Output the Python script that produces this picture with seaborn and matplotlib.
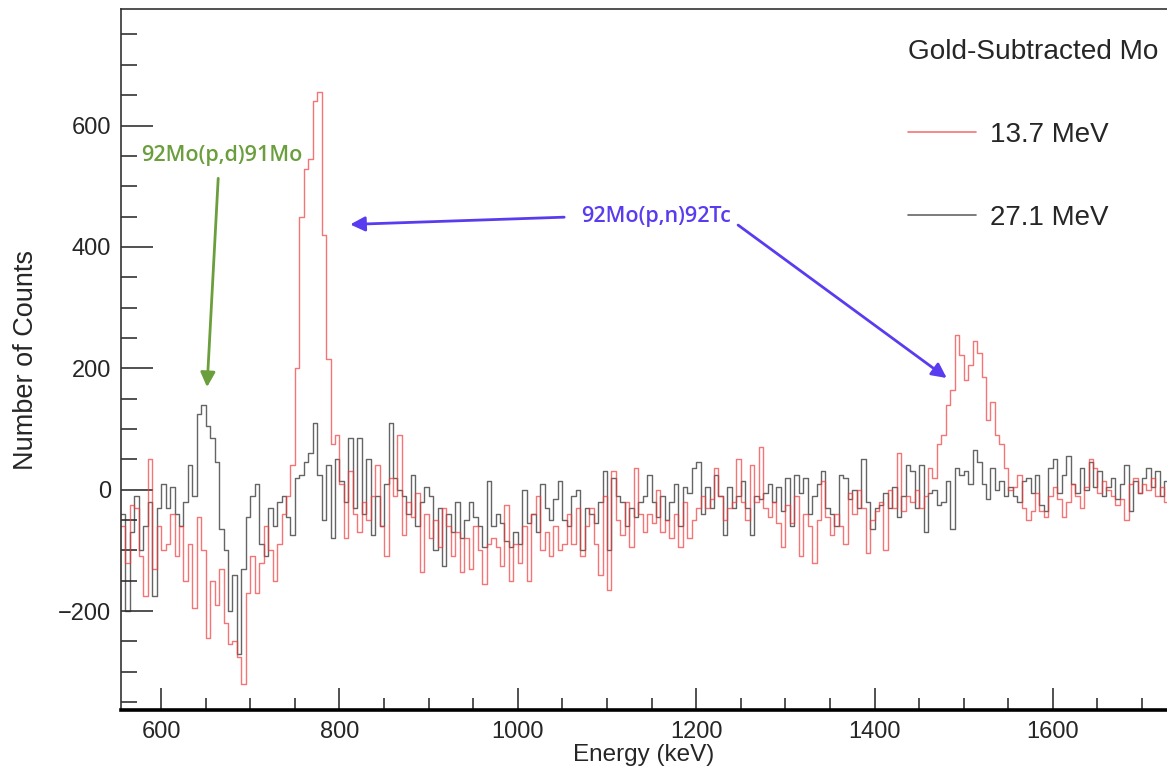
import numpy as np
import pandas as pd
import matplotlib
matplotlib.use("Agg")
import matplotlib.pyplot as plt
from matplotlib.ticker import MultipleLocator
import seaborn as sns

# Histogram binning (keV)
bin_lo = 555
bin_width = 5

# Gold-subtracted Mo spectrum, 13.7 MeV beam (counts per bin)
counts_13p7 = [
    -60, -120, -25, -30, -110, -175, 50, -130, -60, -100,
    -90, -40, -110, -60, -150, -90, -195, -45, -100, -245,
    -150, -190, -130, -220, -255, -250, -275, -320, -170, -110,
    -170, -120, -60, -100, -150, -90, -40, -10, 40, 200,
    450, 528, 545, 640, 655, 420, 215, 75, 90, 10,
    -80, 30, -40, -70, -20, -50, -10, 40, -60, -110,
    20, -10, 90, -75, -20, -45, -5, -135, -40, -80,
    -50, -95, -30, -60, -110, -70, -135, -80, -130, -60,
    -100, -155, -90, -80, -95, -125, -25, -150, -90, -120,
    -60, -150, -40, -10, -100, -70, -110, -60, -100, -90,
    -40, -90, -30, -110, -60, -30, -90, -140, -10, -165,
    30, -50, -75, -20, -95, 35, -40, -70, -40, -55,
    0, -70, -50, -80, -40, -95, -20, -80, -50, -30,
    -10, -30, -15, 35, -10, -50, -30, -20, 50, -20,
    -50, 40, -20, 70, -30, -45, -20, -55, -95, -25,
    -55, -10, -110, -40, -60, -120, -50, 15, -45, -75,
    -40, -60, -90, -5, -40, 0, -30, -105, -50, -35,
    -20, -100, 0, -30, 60, -35, -10, -20, 0, -30,
    -10, 35, 20, 75, 90, 140, 165, 255, 222, 180,
    206, 245, 225, 185, 115, 145, 90, 75, 35, 0,
    5, 25, -30, -50, -35, -5, -35, -45, -10, 5,
    -15, -45, -20, 10, -10, -30, 5, 50, 35, -5,
    15, 0, -10, -25, -15, -50, 10, 20, -5, 10,
    0, 20, -10, 5, -20,
]

# Gold-subtracted Mo spectrum, 27.1 MeV beam (counts per bin)
counts_27p1 = [
    -40, -200, -70, -10, -100, -60, -20, -175, -30, 10,
    -30, 5, -40, -60, -20, 40, -10, 125, 140, 105,
    85, 45, -65, -100, -200, -140, -270, -130, -45, -10,
    10, -90, -110, -30, -60, -20, -10, -45, -75, 20,
    25, 45, 60, 110, 25, -50, 40, -80, 50, 15,
    -20, 85, -30, 85, -40, 50, -75, -10, -60, 10,
    110, 20, 0, -10, -40, 25, -60, -20, 5, -10,
    -100, -30, -125, -40, -70, -20, -80, -50, -20, -45,
    -60, -95, 15, -60, -40, -55, -85, -95, -70, -90,
    0, -55, -40, -70, 10, -30, -50, -15, 15, -50,
    -60, -10, 0, -100, -30, -40, -55, -20, 30, -100,
    20, -10, -20, -60, -30, -45, -20, -10, 25, -20,
    -45, -10, -50, -20, 10, -60, 5, -5, 35, 45,
    -40, 5, -30, 25, -10, -75, 5, -30, -10, 15,
    -30, -75, -10, -15, -5, 10, -20, 5, -35, 20,
    -60, 25, -5, 20, -40, -10, 10, 30, -30, -40,
    -60, 25, 20, -15, 0, -30, 50, -20, -65, -30,
    -25, -5, -30, 5, -45, -10, 40, 30, -30, 40,
    -70, -5, 0, -25, -20, 15, -65, 35, 25, 30,
    10, 65, 45, 10, -15, 35, 0, 15, -10, 5,
    -10, -20, 15, 20, -5, 25, -25, -35, 35, 50,
    -5, 25, 55, 10, -5, 35, 0, 45, 5, 30,
    -10, 5, 20, -15, 10, 40, -35, 15, -5, 20,
    35, 5, 30, -10, 15,
]

series_labels = ["13.7 MeV", "27.1 MeV"]
legend_title = "Gold-Subtracted Mo"
label_pd = "92Mo(p,d)91Mo"
label_pn = "92Mo(p,n)92Tc"

# Annotation anchors in data coordinates (keV, counts)
pd_text_xy = (668, 551)
pd_arrow = ((664, 513), (651.5, 169))
pn_text_xy = (1155, 450)
pn_arrows = [((1052, 449), (812, 437)), ((1247, 436), (1481, 184))]

sns.set_style("ticks")
plt.rcParams["font.family"] = ["Liberation Sans", "DejaVu Sans"]

n_bins = len(counts_13p7)
edges = bin_lo + bin_width * np.arange(n_bins + 1)


def step_frame(values):
    vals = list(values) + [values[-1]]
    return pd.DataFrame({"energy": edges, "counts": vals})


fig = plt.figure(figsize=(11.67, 7.74), dpi=100)
W, H = 1167, 774
ax = fig.add_axes([121 / W, 1 - 710 / H, 1 - 121 / W, 701 / H])

red = "#ee3b3b"
dark = "#2a2a2a"

sns.lineplot(data=step_frame(counts_27p1), x="energy", y="counts", ax=ax,
             drawstyle="steps-post", color=dark, alpha=0.72, lw=1.0,
             estimator=None, sort=False, label=series_labels[1])
sns.lineplot(data=step_frame(counts_13p7), x="energy", y="counts", ax=ax,
             drawstyle="steps-post", color=red, alpha=0.7, lw=1.0,
             estimator=None, sort=False, label=series_labels[0])

ax.set_xlim(555, 1728)
ax.set_ylim(-363, 792)

ax.xaxis.set_major_locator(MultipleLocator(200))
ax.xaxis.set_minor_locator(MultipleLocator(50))
ax.yaxis.set_major_locator(MultipleLocator(200))
ax.yaxis.set_minor_locator(MultipleLocator(50))

ax.tick_params(axis="y", which="major", direction="in", length=23, width=1.1,
               color="#222222", labelsize=17, pad=7, right=False)
ax.tick_params(axis="y", which="minor", direction="in", length=11.5, width=1.1,
               color="#222222", right=False)
ax.tick_params(axis="x", which="major", direction="in", length=15.5, width=1.1,
               color="#222222", labelsize=17, pad=8, top=False)
ax.tick_params(axis="x", which="minor", direction="in", length=8.5, width=1.1,
               color="#222222", top=False)

for side in ("left", "top"):
    ax.spines[side].set_linewidth(1.2)
    ax.spines[side].set_color("#333333")
ax.spines["bottom"].set_linewidth(2.6)
ax.spines["bottom"].set_color("black")
ax.spines["right"].set_visible(False)

ax.set_xlabel("Energy (keV)", fontsize=17.5)
ax.set_ylabel("Number of Counts", fontsize=19.5)
ax.yaxis.set_label_coords(-0.078, 0.5)
ax.xaxis.set_label_coords(0.5, -0.049)

handles, labels = ax.get_legend_handles_labels()
order = [labels.index(series_labels[0]), labels.index(series_labels[1])]
leg = ax.legend([handles[i] for i in order], [labels[i] for i in order],
                title=legend_title, frameon=False, fontsize=20, title_fontsize=20.2,
                loc="upper left", bbox_to_anchor=(894 / W, 1 - 25 / H),
                bbox_transform=fig.transFigure, borderpad=0, handlelength=2.45,
                handletextpad=0.5, labelspacing=2.05, alignment="left")
for lh in leg.get_lines():
    lh.set_linewidth(1.2)

green = "#6b9e3c"
violet = "#5a3cf0"

ax.text(*pd_text_xy, label_pd, color=green, fontsize=15.5, fontweight="semibold",
        family=["Open Sans", "DejaVu Sans"], ha="center", va="center")
ax.annotate("", xy=pd_arrow[1], xytext=pd_arrow[0],
            arrowprops=dict(arrowstyle="-|>", color=green, lw=2.0,
                            mutation_scale=22, shrinkA=0, shrinkB=0))

ax.text(*pn_text_xy, label_pn, color=violet, fontsize=15.5, fontweight="semibold",
        family=["Open Sans", "DejaVu Sans"], ha="center", va="center")
for start, tip in pn_arrows:
    ax.annotate("", xy=tip, xytext=start,
                arrowprops=dict(arrowstyle="-|>", color=violet, lw=2.0,
                                mutation_scale=22, shrinkA=0, shrinkB=0))

fig.savefig("out.png", dpi=100)
